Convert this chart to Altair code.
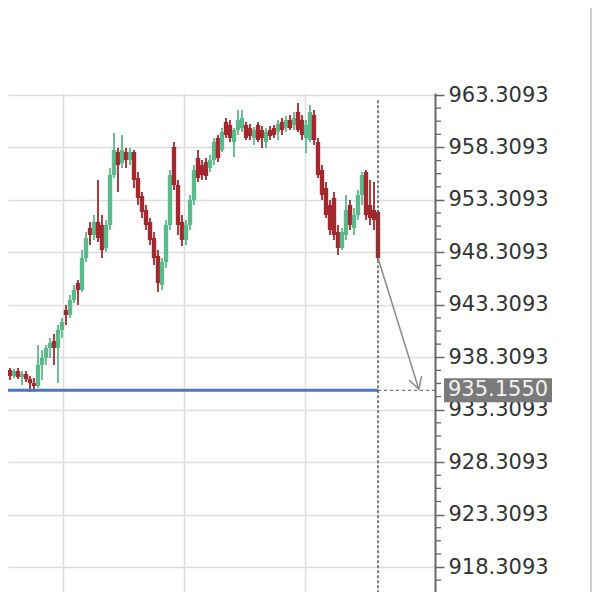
import altair as alt
import pandas as pd

# ---- data ----
opens = [936.90, 936.71, 937.09, 936.52, 937.00, 936.43, 936.71, 936.24, 935.85, 935.57,
         937.57, 938.24, 939.19, 939.86, 939.19, 940.91, 942.81, 942.34, 943.77, 945.39,
         944.72, 947.77, 950.63, 949.96, 951.20, 950.92, 948.72, 950.92, 955.68, 957.88,
         956.83, 957.88, 957.11, 957.88, 955.40, 953.68, 952.35, 951.20, 949.68, 947.96,
         945.20, 947.39, 950.92, 958.35, 954.73, 951.20, 949.49, 950.92, 953.30, 957.30,
         956.64, 956.92, 956.35, 957.11, 959.21, 958.07, 960.74, 960.45, 958.83, 959.97,
         960.16, 960.45, 960.16, 959.21, 960.45, 959.97, 958.83, 959.97, 960.16, 959.78,
         960.74, 960.16, 960.93, 960.45, 961.69, 960.93, 959.21, 959.02, 961.40, 958.83,
         956.16, 954.44, 952.82, 953.49, 950.25, 948.72, 949.96, 952.82, 950.63, 951.87,
         953.78, 955.97, 952.82, 952.35, 952.16]
closes = [936.52, 937.09, 936.52, 937.00, 936.43, 936.71, 936.24, 935.85, 935.57, 937.57,
          938.24, 939.19, 939.67, 939.19, 940.91, 941.67, 942.34, 943.77, 944.72, 944.72,
          947.77, 949.68, 949.96, 951.20, 949.68, 948.53, 950.92, 955.68, 958.07, 956.64,
          958.07, 957.11, 957.88, 955.21, 953.49, 952.16, 950.92, 949.49, 947.77, 945.39,
          947.39, 950.92, 955.68, 954.73, 950.92, 949.49, 950.92, 953.30, 956.16, 955.40,
          955.68, 955.59, 957.11, 958.83, 957.30, 959.78, 959.50, 959.21, 959.97, 960.93,
          961.12, 959.21, 959.40, 959.97, 959.02, 959.21, 959.78, 959.40, 959.50, 960.55,
          959.97, 960.93, 960.16, 961.12, 959.97, 959.50, 960.45, 961.69, 959.02, 955.68,
          953.78, 951.87, 950.44, 949.96, 948.72, 950.25, 952.35, 950.92, 951.87, 953.78,
          955.68, 951.87, 951.58, 951.39, 947.77]
highs = [937.19, 937.38, 937.29, 937.19, 937.29, 937.00, 937.00, 936.52, 936.33, 939.48,
         939.00, 939.48, 940.15, 940.53, 941.38, 942.05, 943.29, 944.24, 945.20, 945.67,
         948.53, 950.25, 951.20, 951.87, 955.21, 951.87, 951.39, 956.35, 959.69, 958.26,
         959.50, 958.26, 958.26, 958.07, 955.97, 954.06, 952.82, 951.58, 950.25, 948.53,
         947.77, 951.39, 956.16, 958.83, 955.21, 951.87, 951.39, 953.78, 956.64, 958.07,
         957.11, 957.30, 957.59, 959.21, 959.50, 960.16, 961.12, 960.93, 960.16, 961.88,
         961.88, 960.74, 960.55, 960.26, 960.74, 960.35, 960.16, 960.35, 960.45, 960.93,
         961.12, 961.31, 961.40, 961.69, 962.55, 961.40, 960.93, 962.36, 961.88, 959.21,
         956.64, 955.02, 953.30, 954.06, 950.92, 950.63, 953.78, 953.30, 952.54, 954.25,
         955.97, 956.16, 955.21, 955.02, 952.35]
lows = [936.24, 936.33, 936.14, 936.33, 936.24, 935.66, 935.95, 935.00, 935.00, 935.38,
        936.14, 937.57, 938.24, 937.57, 935.85, 940.15, 941.38, 942.05, 943.48, 943.29,
        944.53, 947.39, 949.01, 949.49, 949.30, 947.77, 948.34, 950.44, 955.40, 954.06,
        956.35, 956.35, 956.64, 954.44, 952.82, 951.58, 950.44, 949.01, 947.10, 944.53,
        944.72, 946.82, 950.44, 954.25, 949.96, 948.92, 949.01, 950.44, 952.82, 955.02,
        955.21, 955.21, 955.97, 956.64, 956.92, 957.88, 959.21, 958.83, 957.40, 959.50,
        959.78, 959.02, 959.02, 958.54, 958.83, 958.26, 958.26, 959.02, 959.21, 959.02,
        959.50, 959.78, 959.97, 959.97, 959.78, 959.02, 957.78, 958.83, 958.54, 955.40,
        953.30, 951.58, 949.96, 949.49, 948.06, 948.53, 949.49, 950.44, 949.96, 951.39,
        952.82, 951.39, 950.92, 950.44, 947.58]

last_price = 935.1550
y_ticks = [918.3093, 923.3093, 928.3093, 933.3093, 938.3093,
           943.3093, 948.3093, 953.3093, 958.3093, 963.3093]
minor_ticks = [round(m + 1.25 * k, 4) for m in [913.3093] + y_ticks[:-1] for k in (1, 2, 3)]
time_grid = [15.25, 45.5, 75.75]
arrow_end = (104.2, 935.25)
cursor_top = 962.8

# ---- layout ----
W, H = 427, 499
x_dom = [1.5, 108.25]
y_dom = [915.93, 963.50]
GREEN, RED = "#5cb98b", "#a3272c"

n = len(closes)
df = pd.DataFrame({
    "i": list(range(n)),
    "open": opens, "close": closes, "high": highs, "low": lows,
})
df["dir"] = ["up" if c >= o else "down" for o, c in zip(opens, closes)]
last_i = n - 1

xs = alt.Scale(domain=x_dom, nice=False, zero=False, padding=0)
ys = alt.Scale(domain=y_dom, nice=False, zero=False, padding=0)
col = alt.Color("dir:N", scale=alt.Scale(domain=["up", "down"], range=[GREEN, RED]), legend=None)

yaxis = alt.Axis(orient="right", values=y_ticks, format=".4f", title=None,
                 labelFontSize=21, labelFont="DejaVu Sans", labelColor="#333333",
                 tickSize=9, tickColor="#666666", tickWidth=1.5,
                 domainColor="#666666", domainWidth=2, labelPadding=4,
                 gridColor="#dddddd", gridWidth=1.5, labelOverlap=False, labelFlush=False)
xaxis = alt.Axis(orient="bottom", values=time_grid, grid=True, labels=False, ticks=False,
                 domain=False, title=None, gridColor="#dddddd", gridWidth=1.5)


def X(f):
    return alt.X(f, scale=xs, axis=xaxis)


def Y(f):
    return alt.Y(f, scale=ys, axis=yaxis)


base = alt.Chart(df)
wicks = base.mark_rule(strokeWidth=1.8, clip=True).encode(
    x=X("i:Q"), y=Y("low:Q"), y2="high:Q", color=col)
bodies = base.mark_bar(width=4.4, clip=True).encode(
    x=X("i:Q"), y=Y("open:Q"), y2="close:Q", color=col)

pdf = pd.DataFrame({"x0": [x_dom[0]], "x1": [last_i], "p": [last_price],
                    "top": [cursor_top], "lbl": [f"{last_price:.4f}"]})
pbase = alt.Chart(pdf)
blue = pbase.mark_rule(color="#4a78c0", strokeWidth=3).encode(
    x=X("x0:Q"), x2="x1:Q", y=Y("p:Q"))
hdash = pbase.mark_rule(color="#777777", strokeWidth=1.3, strokeDash=[3, 3]).encode(
    x=X("x1:Q"), x2=alt.value(W), y=Y("p:Q"))
vdash = pbase.mark_rule(color="#555555", strokeWidth=1.5, strokeDash=[3, 2]).encode(
    x=X("x1:Q"), y=Y("top:Q"), y2=alt.value(H))

adf = pd.DataFrame({"x": [last_i, arrow_end[0]], "y": [closes[-1], arrow_end[1]]})
arrow_line = alt.Chart(adf).mark_line(color="#8a8a8a", strokeWidth=1.5).encode(
    x=X("x:Q"), y=Y("y:Q"))
hdf = pd.DataFrame({"x": [arrow_end[0]], "y": [arrow_end[1]]})
arrow_head = alt.Chart(hdf).mark_point(
    shape="M -0.55 -1 L 0 0 L 0.55 -1", size=560, angle=343, filled=False,
    color="#8a8a8a", strokeWidth=1.5, opacity=1).encode(
    x=X("x:Q"), y=Y("y:Q"))

mdf = pd.DataFrame({"m": minor_ticks})
minors = alt.Chart(mdf).mark_rule(color="#666666", strokeWidth=1.3).encode(
    x=alt.value(W + 1), x2=alt.value(W + 6), y=Y("m:Q"))

box = pbase.mark_rect(color="#7a7a7a", height=24).encode(
    x=alt.value(436), x2=alt.value(544), y=Y("p:Q"))
txt = pbase.mark_text(color="#f2f2f2", fontSize=21, font="DejaVu Sans",
                      align="center", baseline="middle").encode(
    x=alt.value(490), y=Y("p:Q"), text="lbl:N")

border = pbase.mark_rule(color="#cccccc", strokeWidth=2).encode(
    x=alt.value(583), y=alt.value(-85), y2=alt.value(H))

chart = alt.layer(
    wicks, bodies, blue, hdash, vdash, arrow_line, arrow_head, minors, box, txt, border
).properties(
    width=W, height=H,
    autosize=alt.AutoSizeParams(type="none"),
    padding={"left": 0, "top": 85, "right": 157, "bottom": 0},
).configure_view(stroke=None)

chart.save("out.html", embed_options={"renderer": "svg", "actions": False})
